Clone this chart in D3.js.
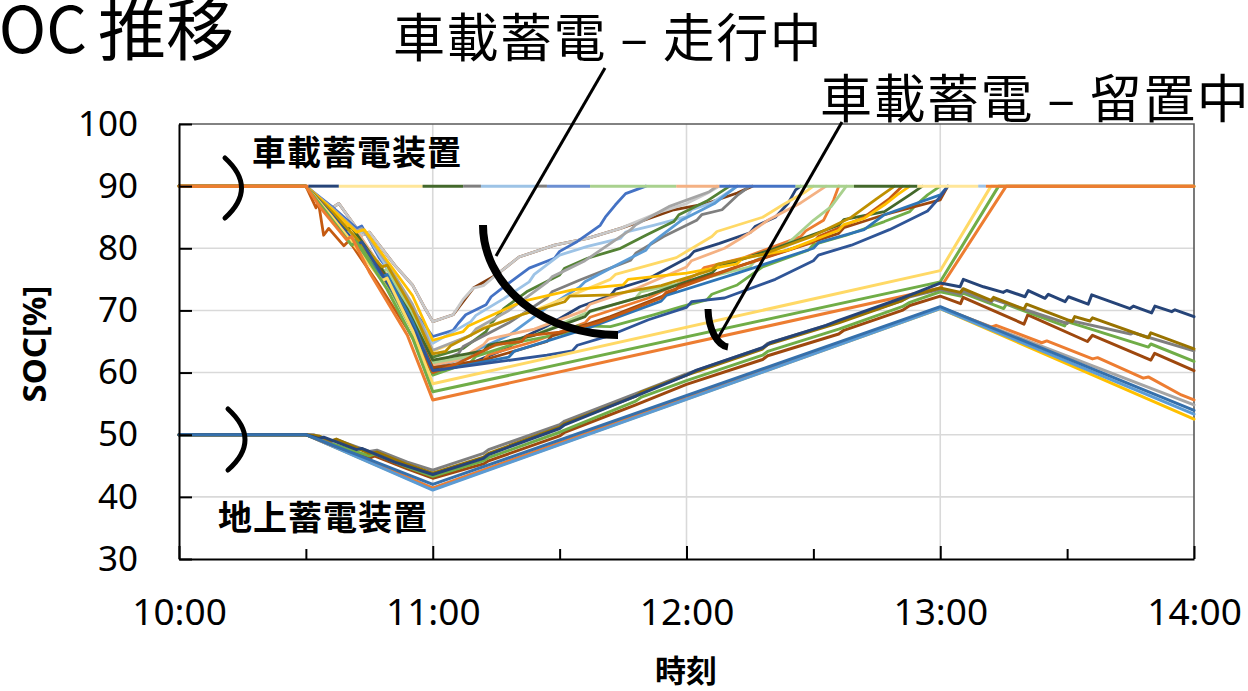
<!DOCTYPE html>
<html><head><meta charset="utf-8">
<script src="https://cdn.jsdelivr.net/npm/d3@7"></script>
<style>body{margin:0;background:#fff}svg{display:block}</style>
</head><body><svg id="c" width="1248" height="691"></svg>
<script>
// ---------------- DATA (time in hours, SOC in %) ----------------
const yTicks = [30, 40, 50, 60, 70, 80, 90, 100];
const xTicks = [10, 11, 12, 13, 14];
const xTickLabels = ["10:00", "11:00", "12:00", "13:00", "14:00"];
const xMinorTicks = [10.5, 11.5, 12.5, 13.5];

// On-board storage, running (走行中)
const obDarkBrown = [[10,90],[10.5,90],[10.55,88.1],[10.6,86.4],[10.63,87.2],[10.72,82.1],[10.75,82.6],[10.85,77.3],[10.92,74.1],[10.97,70.3],[11,68.2],[11.08,69.3],[11.16,73.6],[11.25,75.7],[11.34,78.6],[11.48,80.5],[11.61,81.6],[11.74,83.2],[11.9,85.5],[11.95,86.2],[12.08,87.2],[12.2,88.9],[12.26,90]];
const obLightGray = [[10,90],[10.5,90],[10.55,88.1],[10.6,86.4],[10.63,87.2],[10.72,82.1],[10.75,82.6],[10.85,77.3],[10.92,74.1],[10.97,70.3],[11,68.2],[11.08,69.3],[11.12,71.8],[11.16,73.6],[11.2,74],[11.25,75.7],[11.34,78.6],[11.48,80.5],[11.61,81.6],[11.74,83.2],[11.9,85.9],[12.0,87.2],[12.08,88.8],[12.13,90]];
const obBlue = [[10,90],[10.5,90],[10.6,86.8],[10.7,83.2],[10.72,83.6],[10.79,78.4],[10.84,75.7],[10.9,71.4],[11,65.8],[11.08,66.8],[11.1,67.9],[11.13,69.3],[11.21,70.9],[11.23,72.2],[11.29,74.1],[11.38,76.8],[11.48,78.4],[11.5,79.5],[11.57,81.1],[11.66,83.7],[11.68,85],[11.72,87],[11.76,88.8],[11.84,90]];
const obLightBlue = [[10,90],[10.5,90],[10.6,86.2],[10.7,82.4],[10.73,82.8],[10.8,78.2],[10.9,71.5],[10.95,68.3],[11,64.7],[11.15,68.2],[11.17,69.2],[11.28,71.9],[11.38,74.6],[11.4,75.8],[11.5,78.9],[11.61,80.3],[11.74,81.6],[11.76,82.6],[11.87,83.7],[12.0,85.1],[12.02,86.2],[12.1,87.3],[12.2,90]];
const obDarkGreen1 = [[10,90],[10.5,90],[10.58,86.4],[10.66,83.2],[10.68,83.6],[10.8,76.8],[10.9,70.6],[11,62.5],[11.12,63.9],[11.21,66.6],[11.23,67.9],[11.28,70.3],[11.37,73.0],[11.5,75.7],[11.52,76.8],[11.61,78.4],[11.74,80.0],[11.84,82.1],[11.95,84.3],[11.97,85.4],[12.08,87.6],[12.17,90]];
const obDarkGray = [[10,90],[10.5,90],[10.57,87],[10.65,83.4],[10.67,83.9],[10.78,77.4],[10.88,71],[10.95,66.4],[11,61.5],[11.1,63],[11.12,64.2],[11.3,68],[11.45,72],[11.47,73],[11.58,74.9],[11.78,78.1],[11.8,79.2],[11.91,81.9],[12.04,84.5],[12.06,85.4],[12.14,86.2],[12.2,88.5],[12.25,90]];
const obSteelBlue = [[10,90],[10.5,90],[10.6,85.6],[10.7,80.9],[10.72,81.3],[10.84,74],[10.93,67.5],[11,61],[11.15,62.5],[11.17,63.6],[11.3,66],[11.45,70.5],[11.58,73.8],[11.6,74.6],[11.71,77],[11.84,79.7],[11.86,80.8],[11.98,84.5],[12.11,87.2],[12.16,88.8],[12.2,90]];
const obDarkBlue = [[10,90],[10.5,90],[10.56,87.2],[10.66,82.4],[10.76,77.6],[10.78,78],[10.9,69.6],[11,60.5],[11.15,61.5],[11.3,64],[11.32,64.9],[11.45,67.5],[11.58,70.6],[11.7,72.4],[11.72,73.4],[11.84,74.9],[12.01,78.6],[12.03,79.5],[12.13,80.8],[12.25,82.5],[12.27,83.5],[12.35,85],[12.4,87.2],[12.43,89.4],[12.45,90]];
const obSalmon = [[10,90],[10.5,90],[10.6,85.8],[10.68,82.4],[10.7,82.8],[10.82,75.6],[10.92,68.8],[11,61.2],[11.1,62],[11.2,64.5],[11.22,65.4],[11.4,67],[11.6,70],[11.62,71],[11.8,73.5],[12.0,77],[12.02,78],[12.15,80],[12.25,82.5],[12.32,84.5],[12.45,87.3],[12.55,90]];
const obOrange = [[10,90],[10.5,90],[10.55,87.6],[10.64,83.5],[10.66,84],[10.76,78],[10.86,71.8],[10.94,65.6],[11,60],[11.2,62],[11.22,62.9],[11.4,65],[11.6,68],[11.62,68.9],[11.85,72],[12.05,76],[12.07,76.9],[12.22,78.4],[12.45,81.9],[12.47,82.8],[12.54,84.5],[12.58,87.8],[12.6,90]];
const obLightGreen = [[10,90],[10.5,90],[10.58,86.8],[10.7,81.4],[10.8,76.2],[10.82,76.6],[10.92,69.4],[11,61.6],[11.2,63],[11.22,64],[11.4,66],[11.6,69.5],[11.8,72],[11.82,73],[12.05,75],[12.25,77],[12.27,78],[12.4,80.8],[12.5,84.5],[12.57,86.7],[12.63,90]];
const obLightYellow = [[10,90],[10.5,90],[10.6,86],[10.7,81.8],[10.8,77],[10.82,77.4],[10.92,70.4],[11,63.4],[11.15,66],[11.17,66.8],[11.4,70],[11.7,75],[11.72,75.8],[11.96,78.5],[12.1,81.9],[12.12,82.7],[12.3,85],[12.38,87],[12.47,89.1],[12.5,90]];
const obDarkGreen2 = [[10,90],[10.5,90],[10.56,87.4],[10.66,83],[10.68,83.4],[10.8,76.6],[10.9,70.2],[11,62],[11.2,63.5],[11.22,64.4],[11.4,66],[11.6,69],[11.62,69.9],[11.85,72.5],[12.1,76],[12.12,76.9],[12.35,80],[12.6,83.7],[12.62,84.6],[12.78,85.9],[12.88,88.6],[12.93,90]];
const obGreen = [[10,90],[10.5,90],[10.58,86],[10.68,81],[10.7,81.5],[10.82,74.4],[10.92,66.8],[11,59.6],[11.15,61.7],[11.17,62.6],[11.35,65.0],[11.55,66.6],[11.57,67.5],[11.7,67.4],[11.87,69.3],[11.98,70.6],[12.08,71.7],[12.1,72.6],[12.2,74.1],[12.3,77.0],[12.48,79.7],[12.5,80.6],[12.63,82.1],[12.78,84.3],[12.88,85.9],[12.9,86.8],[12.95,88.6],[13.0,90]];
const obBrown = [[10,90],[10.5,90],[10.6,85.4],[10.7,80.4],[10.72,80.9],[10.84,73.6],[10.94,66.2],[11,60.8],[11.2,62],[11.45,65],[11.47,65.9],[11.7,69],[11.95,73],[11.97,73.9],[12.3,78.4],[12.6,82.4],[12.62,83.3],[12.78,85.4],[13.0,87.8],[13.03,90]];
const obMidBlue = [[10,90],[10.5,90],[10.6,85.2],[10.7,80.5],[10.8,75.4],[10.82,75.8],[10.92,68.2],[11,60.2],[11.3,62.5],[11.32,63.4],[11.6,67],[11.9,71.5],[11.92,72.4],[12.2,76],[12.5,80],[12.52,80.9],[12.7,83],[12.78,85.4],[13.0,88.6],[13.03,90]];
const obGray = [[10,90],[10.5,90],[10.6,86.6],[10.7,82.8],[10.72,83.2],[10.82,77.6],[10.92,71],[11,63.6],[11.15,66],[11.17,67],[11.3,70],[11.45,74.5],[11.47,75.4],[11.6,78],[11.78,83],[11.8,83.8],[11.93,86.7],[12.09,89.1],[12.12,90]];
const obDarkOrange = [[10,90],[10.5,90],[10.54,86.5],[10.55,87.3],[10.57,82.1],[10.59,83.2],[10.65,80.4],[10.67,81.2],[10.78,74.6],[10.9,67],[11,60],[11.1,61.5],[11.25,64.5],[11.35,65],[11.37,65.9],[11.5,66.5],[11.65,68],[11.9,72],[11.92,72.9],[12.2,77],[12.5,81],[12.52,81.9],[12.7,85],[12.8,88],[12.85,90]];
const obGold = [[10,90],[10.5,90],[10.6,86.4],[10.7,82.6],[10.73,83],[10.82,78],[10.92,72.4],[11,65.2],[11.12,66.6],[11.14,67.5],[11.35,71.4],[11.55,73.3],[11.75,74.1],[11.77,75],[12.0,76],[12.2,77.5],[12.22,78.4],[12.4,79.7],[12.6,82.9],[12.62,83.8],[12.7,84.8],[12.78,87],[12.83,88.6],[12.88,90]];
const obOlive = [[10,90],[10.5,90],[10.6,86],[10.7,81.6],[10.8,77],[10.82,77.3],[10.92,70.2],[11,63],[11.05,63.4],[11.07,64.3],[11.2,67.1],[11.35,69.3],[11.52,71.4],[11.54,72.3],[11.7,72.5],[11.9,74],[12.1,76.5],[12.12,77.4],[12.3,79],[12.5,82],[12.65,85],[12.75,88],[12.82,90]];
const obNavy = [[10,90],[10.5,90],[10.6,85.5],[10.7,80.6],[10.72,81],[10.84,73.2],[10.93,66.6],[11,60.3],[11.45,62.8],[11.55,63.5],[11.57,64.4],[11.7,66],[11.85,68.5],[12.0,70.5],[12.02,71.4],[12.15,72],[12.35,75],[12.5,78],[12.52,78.9],[12.65,80.5],[12.8,83],[12.95,86],[13.0,88.3],[13.03,90]];

// On-board storage, parked (留置中)
const obParkedYellow = [[10,90],[10.5,90],[10.6,85.2],[10.7,80],[10.8,74.8],[10.82,75.2],[10.92,66.8],[11,58.2],[13,76.4],[13.2,90],[14,90]];
const obParkedGreen = [[10,90],[10.5,90],[10.58,85.8],[10.68,80.5],[10.7,81],[10.82,73.4],[10.92,65.6],[11,56.9],[13,74.6],[13.23,90],[14,90]];
const obParkedOrange = [[10,90],[10.5,90],[10.56,86.4],[10.66,81.4],[10.68,81.9],[10.75,76.2],[10.9,66],[11,55.6],[13,73.6],[13.26,90],[14,90]];

// Fully charged spans at 90 % (visible colour on top)
const fullStart = [10.0, 10.51, 10.63, 10.96, 11.12, 11.19, 11.41, 11.45, 11.62, 11.96, 12.13, 12.43, 12.66, 12.91, 13.15, 13.18];
const fullEnd   = [10.51, 10.63, 10.96, 11.12, 11.19, 11.41, 11.45, 11.62, 11.96, 12.13, 12.43, 12.66, 12.91, 13.15, 13.18, 14.0];
const fullLevel = 90;

// Ground storage (地上蓄電装置)
const gdGold = [[10,50],[10.5,50],[11,41.2],[13,70.3],[14,52.5]];
const gdGray = [[10,50],[10.5,50],[11,41.4],[13,70.5],[14,54.8]];
const gdOrange = [[10,50],[10.5,50],[11,41.4],[13,70.5],[13.2,67.3],[13.22,67.6],[13.4,64.8],[13.42,65.1],[13.6,62.2],[13.62,62.4],[13.8,59.1],[13.82,59.3],[13.95,56.4],[14,55.6]];
const gdLightBlue = [[10,50],[10.5,50],[11,41.1],[13,70.3],[14,53.3]];
const gdBrown = [[10,50],[10.5,50],[10.6,48.4],[10.75,46.2],[10.77,46.6],[10.9,44.5],[11,43.0],[11.2,45.3],[11.22,45.8],[11.5,49.8],[11.52,50.4],[11.8,54.8],[12,58.1],[12.3,62.1],[12.32,62.7],[12.6,66.2],[12.62,66.8],[12.85,70],[12.88,70.8],[13,72.3],[13.08,71.1],[13.09,72.1],[13.33,67.8],[13.345,69.3],[13.58,65.0],[13.6,66.0],[13.83,62.0],[13.845,63.1],[14,60.3]];
const gdGreen = [[10,50],[10.5,50],[10.6,48.6],[10.75,46.6],[10.77,46.9],[10.9,44.8],[11,43.3],[11.2,45.8],[11.22,46.3],[11.5,50.4],[11.8,55.4],[11.82,56],[12,58.7],[12.3,62.8],[12.32,63.4],[12.6,67],[12.85,70.6],[12.88,71.3],[13,73.0],[13.08,72.3],[13.09,72.8],[13.25,70.3],[13.26,71.0],[13.49,67.5],[13.5,68.2],[13.82,64.1],[13.83,64.6],[14,61.8]];
const gdDarkGray = [[10,50],[10.5,50],[10.53,50],[10.6,48.9],[10.62,49.2],[10.75,47.3],[10.78,47.5],[10.9,45.6],[11,44.3],[11.2,47],[11.22,47.6],[11.5,51.6],[11.52,52.2],[11.8,56.6],[12,59.8],[12.3,64],[12.32,64.7],[12.6,68.2],[12.85,71.6],[12.88,72.2],[13,73.4],[13.08,72.6],[13.09,73.1],[13.2,71.3],[13.21,71.8],[13.5,67.9],[13.51,68.4],[13.75,66.2],[13.76,66.4],[14,63.5]];
const gdOlive = [[10,50],[10.5,50],[10.55,49.8],[10.6,49],[10.62,49.3],[10.75,47],[10.78,47.2],[10.9,45.2],[11,43.8],[11.2,46.4],[11.22,47],[11.5,51.2],[11.52,51.8],[11.8,56.2],[11.82,56.8],[12,59.6],[12.3,63.8],[12.32,64.5],[12.6,68],[12.85,71.6],[12.88,72.3],[13,73.6],[13.08,72.9],[13.09,73.5],[13.2,71.6],[13.21,72.1],[13.33,70.2],[13.34,71.0],[13.52,68.2],[13.53,69.0],[13.59,68.3],[13.6,68.8],[13.82,65.6],[13.83,66.4],[14,63.8]];
const gdNavy = [[10,50],[10.5,50],[10.55,49.4],[10.57,49.6],[10.7,47.6],[10.72,47.8],[10.85,45.6],[11,43.6],[11.2,46.2],[11.22,46.8],[11.5,51],[11.52,51.6],[11.8,56.2],[12,59.6],[12.04,60.4],[12.3,64],[12.33,64.8],[12.55,67.6],[12.6,68.4],[12.85,72],[12.9,72.8],[13,74.4],[13.078,73.8],[13.091,75.0],[13.17,73.8],[13.248,72.9],[13.262,73.2],[13.334,72.2],[13.347,73.2],[13.413,71.95],[13.426,72.6],[13.492,71.4],[13.505,72.2],[13.583,71.0],[13.597,72.5],[13.748,70.3],[13.761,70.7],[13.833,69.6],[13.846,70.7],[13.912,69.8],[13.925,70.1],[14,69.0]];
const gdSteel = [[10,50],[10.5,50],[11,42.0],[13,70.6],[14,53.9]];

// ---------------- STYLES ----------------
const runningSeries = [obDarkBrown, obLightGray, obBlue, obLightBlue, obDarkGreen1, obDarkGray, obSteelBlue, obDarkBlue, obSalmon, obOrange, obLightGreen, obLightYellow, obDarkGreen2, obGreen, obBrown, obMidBlue, obGray, obDarkOrange, obGold, obOlive, obNavy];
const runningColors = ["#843C0C","#C9C9C9","#4472C4","#9DC3E6","#548235","#7F7F7F","#5B9BD5","#264478","#F4B183","#ED7D31","#A9D18E","#FFD966","#43682B","#70AD47","#9E480E","#2E75B6","#A5A5A5","#C55A11","#FFC000","#BF9000","#2F5597"];
const parkedSeries = [obParkedYellow, obParkedGreen, obParkedOrange];
const parkedColors = ["#FFD966","#70AD47","#ED7D31"];
const fullColors = ["#ED7D31","#264478","#FFE699","#43682B","#7F7F7F","#9DC3E6","#7F7F7F","#6C8FD2","#A9D18E","#F4B183","#4472C4","#A9D18E","#43682B","#FFE699","#9DC3E6","#ED7D31"];
const groundSeries = [gdGold, gdGray, gdOrange, gdLightBlue, gdBrown, gdGreen, gdDarkGray, gdOlive, gdNavy, gdSteel];
const groundColors = ["#FFC000","#A5A5A5","#ED7D31","#5B9BD5","#9E480E","#70AD47","#7F7F7F","#997300","#264478","#3570AC"];

// ---------------- DRAW ----------------
const svg = d3.select("#c");
svg.append("rect").attr("width",1248).attr("height",691).attr("fill","#fff");
const L = 179, R = 1194, T = 124, B = 559;
const x = d3.scaleLinear().domain([10,14]).range([L,R]);
const y = d3.scaleLinear().domain([30,100]).range([B,T]);
const CJK = "'Noto Sans CJK JP','Noto Sans',sans-serif";
const LAT = "'Noto Sans','DejaVu Sans',sans-serif";

// gridlines
const grid = svg.append("g").attr("stroke","#D9D9D9").attr("stroke-width",1.6);
grid.selectAll("line.h").data(yTicks.filter(v=>v>30 && v<100)).enter().append("line")
  .attr("x1",L).attr("x2",R).attr("y1",d=>y(d)).attr("y2",d=>y(d));
grid.selectAll("line.v").data(xTicks.filter(v=>v>10 && v<14)).enter().append("line")
  .attr("x1",d=>x(d)).attr("x2",d=>x(d)).attr("y1",T).attr("y2",B);

// frame top/right
svg.append("path").attr("d",`M${L},${T}H${R}V${B}`).attr("fill","none").attr("stroke","#595959").attr("stroke-width",1.6);

const line = d3.line().x(d=>x(d[0])).y(d=>y(d[1]));
const plot = svg.append("g").attr("fill","none").attr("stroke-linejoin","round").attr("stroke-linecap","round");

runningSeries.forEach((s,i)=>{
  plot.append("path").attr("d",line(s)).attr("stroke",runningColors[i]).attr("stroke-width",2.8);
});
parkedSeries.forEach((s,i)=>{
  plot.append("path").attr("d",line(s)).attr("stroke",parkedColors[i]).attr("stroke-width",3);
});
fullStart.forEach((t,i)=>{
  plot.append("path").attr("d",line([[t,fullLevel],[fullEnd[i],fullLevel]])).attr("stroke",fullColors[i]).attr("stroke-width",3).attr("stroke-linecap","butt");
});
groundSeries.forEach((s,i)=>{
  plot.append("path").attr("d",line(s)).attr("stroke",groundColors[i]).attr("stroke-width",3);
});

// axes
const ya = svg.append("g").attr("transform",`translate(${L},0)`)
  .call(d3.axisLeft(y).tickValues(yTicks).tickSizeInner(-13).tickSizeOuter(0).tickPadding(41).tickFormat(d3.format("d")));
const xa = svg.append("g").attr("transform",`translate(0,${B})`)
  .call(d3.axisBottom(x).tickValues(xTicks).tickSizeInner(-13).tickSizeOuter(0).tickPadding(40).tickFormat((d,i)=>xTickLabels[i]));
const xm = svg.append("g").attr("transform",`translate(0,${B})`)
  .call(d3.axisBottom(x).tickValues(xMinorTicks).tickSizeInner(-10).tickSizeOuter(0).tickFormat(""));
xm.select(".domain").remove();
[ya,xa,xm].forEach(g=>{
  g.select(".domain").attr("stroke","#000").attr("stroke-width",2);
  g.selectAll(".tick line").attr("stroke","#000").attr("stroke-width",2);
  g.selectAll("text").attr("fill","#000").style("font-family",LAT);
});
ya.selectAll("text").style("font-size","35px");
xa.selectAll("text").style("font-size","37px");

// axis titles
svg.append("text").attr("transform","translate(33,344) rotate(-90)").attr("text-anchor","middle")
  .attr("dominant-baseline","central").style("font-family",LAT).style("font-weight","bold").style("font-size","33px").text("SOC[%]");
svg.append("text").attr("x",686).attr("y",682).attr("text-anchor","middle")
  .style("font-family",CJK).style("font-weight","bold").style("font-size","31px").text("時刻");

// title (partly cut at the left edge, as in the original slide)
svg.append("text").attr("x",234).attr("y",55).attr("text-anchor","end")
  .style("font-family",CJK).style("font-size","68px").text("推移");
svg.append("text").attr("x",87).attr("y",53).attr("text-anchor","end")
  .style("font-family",CJK).style("font-size","64px").text("SOC");

// annotation labels
svg.append("text").attr("x",393).attr("y",57).style("letter-spacing","1.5px")
  .style("font-family",CJK).style("font-size","52px").text("車載蓄電 – 走行中");
svg.append("text").attr("x",820).attr("y",118).style("letter-spacing","1.5px")
  .style("font-family",CJK).style("font-size","52px").text("車載蓄電 – 留置中");
svg.append("text").attr("x",252).attr("y",165).style("letter-spacing","1px")
  .style("font-family",CJK).style("font-weight","bold").style("font-size","34px").text("車載蓄電装置");
svg.append("text").attr("x",218).attr("y",530).style("letter-spacing","1px")
  .style("font-family",CJK).style("font-weight","bold").style("font-size","34px").text("地上蓄電装置");

// annotation shapes
const ann = svg.append("g").attr("fill","none").attr("stroke","#000");
ann.append("path").attr("d","M605,68L496,256").attr("stroke-width",3);
ann.append("path").attr("d","M483,225A135,110 0 0 0 618,335").attr("stroke-width",8);
ann.append("path").attr("d","M842,122L718,338").attr("stroke-width",3);
ann.append("path").attr("d","M708,309A22,40 0 0 0 728,347").attr("stroke-width",7);
ann.append("path").attr("d","M225,158Q258,188 225,218").attr("stroke-width",5).attr("stroke-linecap","round");
ann.append("path").attr("d","M228,409Q262,440 228,470").attr("stroke-width",5).attr("stroke-linecap","round");
</script></body></html>
